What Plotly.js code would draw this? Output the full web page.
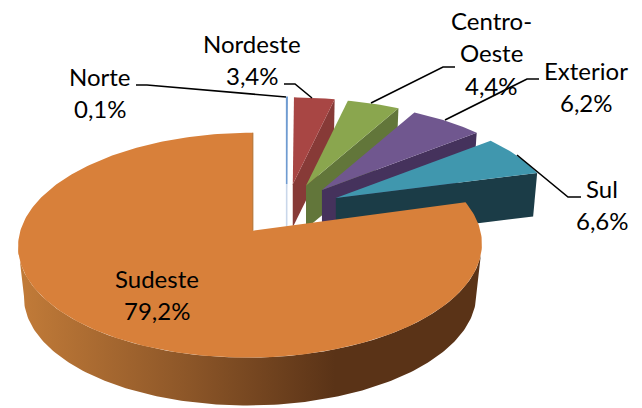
<!DOCTYPE html>
<html><head><meta charset="utf-8">
<script src="https://cdn.plot.ly/plotly-3.0.1.min.js"></script>
<style>html,body{margin:0;padding:0;background:#fff}#c{width:642px;height:408px}</style>
</head><body><div id="c"></div>
<script>
// DATA
const categories = ["Norte","Nordeste","Centro-Oeste","Exterior","Sul","Sudeste"];
const values = [0.1,3.4,4.4,6.2,6.6,79.2];
const labelLines = [["Norte","0,1%"],["Nordeste","3,4%"],["Centro-","Oeste","4,4%"],["Exterior","6,2%"],["Sul","6,6%"],["Sudeste","79,2%"]];
// STYLE
const topColors  = ["#6f9bd1","#a84644","#8aa64e","#70578f","#4097ae","#d8803a"];
const wallColors = ["#8fb0d8","#873a37","#62763a","#45325c","#1b3c47","#5a3317"];
const labelAnchors = [[100,76],[252,43],[491,20],[586,70],[602,188],[157,278]];
const lineHeight = 32.7;
const leaders = [
 [[136,147,286],[85,85,97]],
 [[284,295,312],[84,84,98]],
 [[455,443,371],[67,67,103]],
 [[539,527,445],[79,79,120]],
 [[581,568,517],[197,197,155]]
];
// GEOMETRY of the tilted view
const D2R = Math.PI/180, K = 0.129, total = values.reduce((a,b)=>a+b,0);
const pieCx = 286.5, pieCy = 210, explodeX = 55.5, explodeY = 26;
const small = {rx:216, ry:98, depth:43, scale:0.98, shear:0};
const big   = {rx:230, ry:110.6, depth:51, scale:0.975, shear:2.5};

function pt(apex, g, deg, r, lower){
  const t = deg*D2R, w = 1+K*Math.cos(t);
  const s = lower ? g.scale : 1;
  return [apex[0] + s*r*(g.rx*Math.sin(t) + g.shear*(Math.cos(t)-1))/w,
          apex[1] + (lower?g.depth:0) - s*r*g.ry*Math.cos(t)/w];
}
function arc(apex,g,a,b,lower){
  const out=[], n=Math.max(2,Math.ceil(Math.abs(b-a)));
  for(let i=0;i<=n;i++) out.push(pt(apex,g,a+(b-a)*i/n,1,lower));
  return out;
}
function poly(points,color,name,extra){
  return Object.assign({type:'scatter',mode:'lines',x:points.map(p=>p[0]),y:points.map(p=>p[1]),
    fill:'toself',fillcolor:color,line:{width:0,color:color},name:name,hoverinfo:'name',showlegend:false},extra||{});
}
const traces=[];
let cum=0;
values.forEach((v,i)=>{
  const a=cum/total*360, b=(cum+v)/total*360; cum+=v;
  const m=(a+b)/2*D2R;
  const apex=[pieCx+explodeX*Math.sin(m), pieCy-explodeY*Math.cos(m)];
  const g = i===5 ? big : small;
  if(i<5){
    // radial side face at the end of the slice
    traces.push(poly([apex,pt(apex,g,b,1),pt(apex,g,b,1,true),[apex[0],apex[1]+g.depth]],wallColors[i],categories[i]));
    traces.push(poly([apex].concat(arc(apex,g,a,b)),topColors[i],categories[i],
       i===0?{line:{width:1.6,color:topColors[i]}}:{}));
    if(i===0) traces.push({type:'scatter',mode:'lines',x:[apex[0],apex[0]],y:[apex[1],apex[1]+g.depth],
       line:{width:1.6,color:"#c9d7ea"},hoverinfo:'skip',showlegend:false});
  } else {
    // rounded outer wall with a left-to-right shade, then the notch edge and the top face
    const A=97.4,B=262.6;
    const wall=arc(apex,g,A,B).concat(arc(apex,g,B,A,true));
    traces.push(poly(wall,wallColors[i],categories[i],{
      fillgradient:{type:'horizontal',start:25,stop:335,
        colorscale:[[0,'#c07a38'],[0.5,'#8f5829'],[1,'#5a3317']]}}));
    traces.push(poly([apex].concat(arc(apex,g,a,b)),topColors[i],categories[i]));
    const e=pt(apex,g,b,1);
    traces.push({type:'scatter',mode:'lines',x:[apex[0],e[0]],y:[apex[1],e[1]],
       line:{width:1,color:'#b0702f'},hoverinfo:'skip',showlegend:false});
  }
});
leaders.forEach(l=>traces.push({type:'scatter',mode:'lines',x:l[0],y:l[1],
   line:{width:1.6,color:'#000'},hoverinfo:'skip',showlegend:false}));

const annotations=[];
labelLines.forEach((lines,i)=>lines.forEach((t,j)=>annotations.push({
  x:labelAnchors[i][0],y:labelAnchors[i][1]+j*lineHeight,xref:'x',yref:'y',text:t,showarrow:false,
  xanchor:'center',yanchor:'middle',font:{family:'Lato, Carlito, sans-serif',size:24,color:'#000'}})));

Plotly.newPlot('c',traces,{
  width:642,height:408,margin:{l:0,r:0,t:0,b:0},paper_bgcolor:'#fff',plot_bgcolor:'#fff',showlegend:false,
  xaxis:{range:[0,642],visible:false,fixedrange:true},
  yaxis:{range:[408,0],visible:false,fixedrange:true},
  annotations:annotations
},{displayModeBar:false,staticPlot:false});
</script></body></html>
